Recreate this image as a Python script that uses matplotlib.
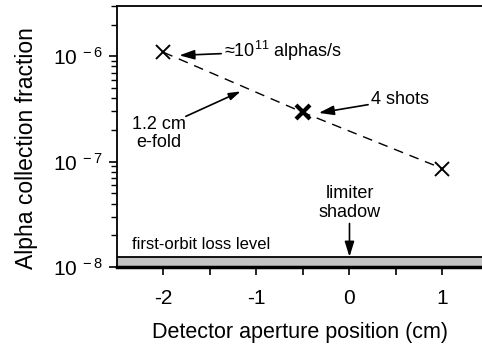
import numpy as np
import matplotlib
matplotlib.use("Agg")
import matplotlib.pyplot as plt
from matplotlib.ticker import FixedLocator, LogLocator, NullFormatter

plt.rcParams['font.family'] = ['Liberation Sans', 'DejaVu Sans']
plt.rcParams['mathtext.fontset'] = 'custom'
plt.rcParams['mathtext.rm'] = 'Liberation Sans'
plt.rcParams['mathtext.it'] = 'Liberation Sans:italic'

# detector aperture position (cm) and measured alpha collection fraction
positions = [-2.0, -0.5, 1.0]
fractions = [1.09e-6, 2.93e-7, 8.6e-8]
bold_point = [p == -0.5 for p in positions]   # 4 shots averaged here

loss_level = 1.25e-8   # first-orbit loss level
limiter_pos = 0.0
x_ticks = [-2, -1, 0, 1]
y_ticks = [1e-8, 1e-7, 1e-6]
y_tick_labels = ['10$^{\\,\\,-8}$', '10$^{\\,\\,-7}$', '10$^{\\,\\,-6}$']

fig = plt.figure(figsize=(4.82, 3.45), dpi=100)
ax = fig.add_axes([117/482, 78/345, 1 - 117/482, 261/345])

ax.set_yscale('log')
ax.set_xlim(-2.5, 1.425)
ax.set_ylim(1e-8, 3e-6)

# shaded first-orbit loss band
ax.fill_between([-2.5, 1.425], 1e-8, loss_level, facecolor='#c4c4c4',
                edgecolor='none', zorder=1)
ax.axhline(loss_level, color='k', lw=1.3, zorder=2)

ax.plot(positions, fractions, color='k', ls=(0, (7, 5)), lw=1.0, zorder=3)
for x, y, b in zip(positions, fractions, bold_point):
    ax.plot(x, y, marker='x', color='k', ms=10, mew=3.0 if b else 1.4,
            ls='none', zorder=4)

fs = 13
arrow = dict(arrowstyle='-|>,head_length=0.7,head_width=0.22', color='k',
             lw=1.2, shrinkA=0, shrinkB=0)
ax.annotate('≈10$^{11}$ alphas/s', xy=(-1.83, 1.02e-6), xytext=(-1.35, 1.12e-6),
            fontsize=fs, va='center', ha='left', arrowprops=arrow)
ax.annotate('4 shots', xy=(-0.33, 2.9e-7), xytext=(0.23, 3.9e-7),
            fontsize=fs, va='center', ha='left', arrowprops=arrow)
ax.annotate('', xy=(-1.17, 4.64e-7), xytext=(-1.76, 2.69e-7), arrowprops=arrow)
ax.text(-2.05, 1.85e-7, '1.2 cm\ne-fold', fontsize=fs, va='center',
        ha='center', linespacing=1.15)
ax.annotate('limiter\nshadow', xy=(limiter_pos, loss_level),
            xytext=(limiter_pos, 2.75e-8), fontsize=fs, va='bottom',
            ha='center', linespacing=1.15, arrowprops=arrow)
ax.text(-2.34, 1.38e-8, 'first-orbit loss level', fontsize=12, ha='left',
        va='bottom')

ax.xaxis.set_major_locator(FixedLocator(x_ticks))
ax.xaxis.set_minor_locator(FixedLocator([-1.5, -0.5, 0.5]))
ax.set_xticklabels([str(t) for t in x_ticks])
ax.yaxis.set_major_locator(FixedLocator(y_ticks))
ax.set_yticklabels(y_tick_labels)
ax.yaxis.set_minor_locator(LogLocator(base=10, subs=np.arange(2, 10)))
ax.yaxis.set_minor_formatter(NullFormatter())

ax.tick_params(axis='both', which='major', direction='out', length=6,
               width=1.2, labelsize=15, pad=4)
ax.tick_params(axis='x', which='minor', direction='out', length=6, width=1.2)
ax.tick_params(axis='y', which='minor', direction='out', length=4, width=1.0)
ax.tick_params(axis='x', pad=10)

ax.spines['right'].set_visible(False)
ax.spines['left'].set_linewidth(1.3)
ax.spines['top'].set_linewidth(1.3)
ax.spines['bottom'].set_linewidth(2.5)

ax.set_xlabel('Detector aperture position (cm)', fontsize=15.5, labelpad=10)
ax.set_ylabel('Alpha collection fraction', fontsize=16.5)
ax.yaxis.set_label_coords(-0.216, 0.455)

fig.savefig('out.png', dpi=100)
